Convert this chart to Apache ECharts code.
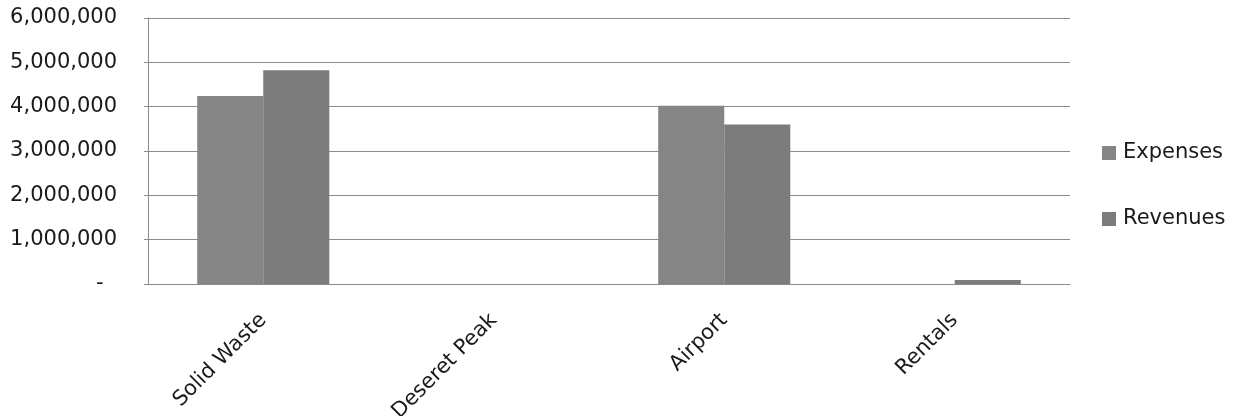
<!DOCTYPE html>
<html>
<head>
<meta charset="utf-8">
<style>
  html, body { margin: 0; padding: 0; background: #ffffff; }
  #chart { width: 1233px; height: 416px; }
</style>
<script src="https://cdn.jsdelivr.net/npm/echarts@6/dist/echarts.min.js"></script>
</head>
<body>
<div id="chart"></div>
<script>
// Fund categories along the x axis
const categories = ['Solid Waste', 'Deseret Peak', 'Airport', 'Rentals'];
// Annual totals per fund
const expenses = [4240000, 0, 4020000, 0];
const revenues = [4820000, 0, 3600000, 90000];
// Value axis range
const yMin = 0;
const yMax = 6000000;
const yStep = 1000000;

const FONT = 'DejaVu Sans';

// Accounting style: zero shows as a dash
function formatAccounting(v) {
  if (v === 0) return '-  ';
  return v.toLocaleString('en-US');
}

const chart = echarts.init(document.getElementById('chart'), null, { renderer: 'canvas' });
chart.setOption({
  animation: false,
  backgroundColor: '#ffffff',
  textStyle: { fontFamily: FONT },
  // fixed plot rectangle; rotated category labels may run to the bottom edge
  grid: { left: 148, right: 163, top: 18, bottom: 132, containLabel: false, outerBoundsMode: 'none' },
  legend: {
    orient: 'vertical',
    left: 1097,
    top: 137,
    itemWidth: 14,
    itemHeight: 14,
    itemGap: 44,
    icon: 'rect',
    textStyle: { fontFamily: FONT, fontSize: 21, color: '#1a1a1a', lineHeight: 22, padding: [0, 0, 0, 2] },
    data: ['Expenses', 'Revenues']
  },
  xAxis: {
    type: 'category',
    data: categories,
    axisLine: { show: true, lineStyle: { color: '#8c8c8c', width: 1 } },
    axisTick: { show: false },
    axisLabel: {
      rotate: 45,
      margin: 33,
      interval: 0,
      fontFamily: FONT,
      fontSize: 21,
      color: '#1a1a1a'
    }
  },
  yAxis: {
    type: 'value',
    min: yMin,
    max: yMax,
    interval: yStep,
    axisLine: { show: true, lineStyle: { color: '#8c8c8c', width: 1 } },
    axisTick: { show: true, length: 4, lineStyle: { color: '#8c8c8c' } },
    splitLine: { show: true, lineStyle: { color: '#8c8c8c', width: 1 } },
    axisLabel: {
      margin: 31,
      fontFamily: FONT,
      fontSize: 21,
      color: '#1a1a1a',
      formatter: formatAccounting
    }
  },
  series: [
    {
      name: 'Expenses',
      type: 'bar',
      data: expenses,
      barGap: '0%',
      barCategoryGap: '42.7%',
      itemStyle: { color: '#858585' }
    },
    {
      name: 'Revenues',
      type: 'bar',
      data: revenues,
      barGap: '0%',
      barCategoryGap: '42.7%',
      itemStyle: { color: '#7c7c7c' }
    }
  ]
});
</script>
</body>
</html>
